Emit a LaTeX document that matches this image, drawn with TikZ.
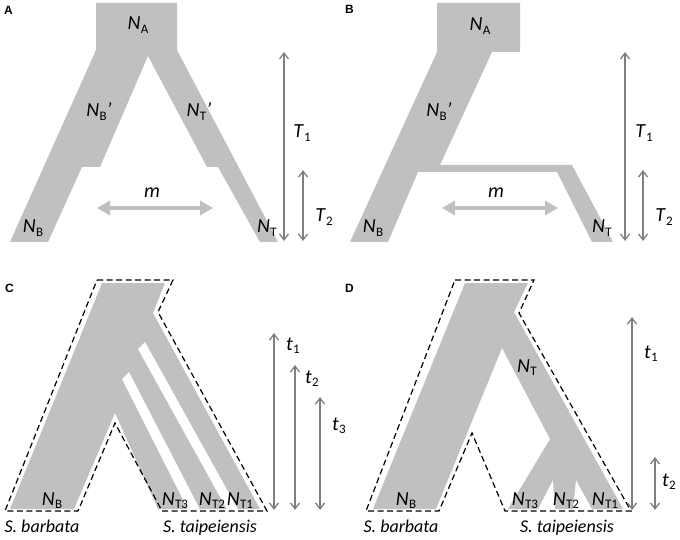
\documentclass[tikz,border=0pt]{standalone}
\usepackage{fontspec}
\setmainfont{Carlito}
\newfontfamily\panelfont{Liberation Sans}
\usetikzlibrary{arrows.meta}
\definecolor{popgray}{HTML}{C0C0C0}
\definecolor{timegray}{HTML}{7F7F7F}
\newcommand{\Nsub}[2]{\textit{#1}\kern0.3pt\raisebox{-3.5pt}{\fontsize{13}{13}\selectfont #2}}
\begin{document}
\begin{tikzpicture}[x=1pt,y=-1pt,
  pop/.style={fill=popgray,draw=none},
  gapstripe/.style={fill=white,draw=none},
  outline/.style={draw=black,line width=1.2pt,dash pattern=on 6pt off 3.5pt,line join=miter},
  timearr/.style={draw=timegray,line width=1.3pt,{Straight Barb[length=6pt,width=9pt]}-{Straight Barb[length=6pt,width=9pt]}},
  migarr/.style={draw=popgray,line width=4pt,{Triangle[length=13pt,width=14pt]}-{Triangle[length=13pt,width=14pt]}},
  lab/.style={inner sep=0pt,anchor=base,font=\fontsize{20}{24}\selectfont},
  tlab/.style={inner sep=0pt,anchor=base west,font=\fontsize{20}{24}\selectfont},
  sp/.style={inner sep=0pt,anchor=base,font=\fontsize{18}{22}\selectfont\itshape},
  panel/.style={inner sep=0pt,anchor=base west,font=\panelfont\bfseries\fontsize{12}{14}\selectfont}]
\useasboundingbox (0,0) rectangle (680,540);

% ---------- Panel A ----------
\fill[pop] (96,3) -- (177,3) -- (177,50) -- (278,242) -- (260,242) -- (218,167) -- (207,167)
  -- (148,56) -- (100,167) -- (82,167) -- (48,242) -- (10,242) -- (96,50) -- cycle;
\node[panel] (pA) at (4,15) {A};
\node[lab] (aNA) at (138,30) {\Nsub{N}{A}};
\node[lab] (aNBp) at (99,117) {\Nsub{N}{B}\textit{’}};
\node[lab] (aNTp) at (199,117) {\Nsub{N}{T}\textit{’}};
\node[lab] (aNB) at (33,233) {\Nsub{N}{B}};
\node[lab] (aNT) at (267,233) {\Nsub{N}{T}};
\node[lab] (am) at (152,198) {\textit{m}};
\coordinate (amL) at (97,208);
\coordinate (amR) at (213,208);
\draw[migarr] (amL) -- (amR);
\coordinate (aT1t) at (284,52);
\coordinate (aT1b) at (284,241);
\coordinate (aT2t) at (303,170);
\coordinate (aT2b) at (303,241);
\draw[timearr] (aT1t) -- (aT1b);
\draw[timearr] (aT2t) -- (aT2b);
\node[lab] (aT1) at (302,138) {\Nsub{T}{1}};
\node[lab] (aT2) at (324,222) {\Nsub{T}{2}};

% ---------- Panel B ----------
\fill[pop] (437,3) -- (520,3) -- (520,52) -- (492,52) -- (440,165) -- (572,165) -- (613,242)
  -- (592,242) -- (557,172) -- (418,172) -- (388,242) -- (350,242) -- (437,52) -- cycle;
\node[panel] (pB) at (345,14) {B};
\node[lab] (bNA) at (480,31) {\Nsub{N}{A}};
\node[lab] (bNBp) at (439,117) {\Nsub{N}{B}\textit{’}};
\node[lab] (bNB) at (373,233) {\Nsub{N}{B}};
\node[lab] (bNT) at (602,233) {\Nsub{N}{T}};
\node[lab] (bm) at (496,198) {\textit{m}};
\coordinate (bmL) at (442,208);
\coordinate (bmR) at (558,208);
\draw[migarr] (bmL) -- (bmR);
\coordinate (bT1t) at (625,52);
\coordinate (bT1b) at (625,241);
\coordinate (bT2t) at (643,170);
\coordinate (bT2b) at (643,241);
\draw[timearr] (bT1t) -- (bT1b);
\draw[timearr] (bT2t) -- (bT2b);
\node[lab] (bT1) at (644,138) {\Nsub{T}{1}};
\node[lab] (bT2) at (664,222) {\Nsub{T}{2}};

% ---------- Panel C ----------
\fill[pop] (102,283) -- (165,283) -- (153,313) -- (260,509) -- (158,509) -- (115,413)
  -- (74,509) -- (10,509) -- cycle;
\fill[gapstripe] (122,379) -- (129,372) -- (200,509.5) -- (188,509.5) -- cycle;
\fill[gapstripe] (138,349) -- (145,342) -- (238,509.5) -- (227,509.5) -- cycle;
\draw[outline] (97,280) -- (173,280) -- (158,312) -- (267,511) -- (162,511) -- (115,423)
  -- (78,511) -- (5,511) -- cycle;
\node[panel] (pC) at (5,292) {C};
\node[lab] (cNB) at (52,505) {\Nsub{N}{B}};
\node[lab] (cNT3) at (175,505) {\Nsub{N}{T3}};
\node[lab] (cNT2) at (212,505) {\Nsub{N}{T2}};
\node[lab] (cNT1) at (240,505) {\Nsub{N}{T1}};
\node[sp] (cSB) at (42,532) {S. barbata};
\node[sp] (cST) at (210,532) {S. taipeiensis};
\coordinate (ct1t) at (274,333);
\coordinate (ct1b) at (274,510);
\coordinate (ct2t) at (295,365);
\coordinate (ct2b) at (295,510);
\coordinate (ct3t) at (320,397);
\coordinate (ct3b) at (320,510);
\draw[timearr] (ct1t) -- (ct1b);
\draw[timearr] (ct2t) -- (ct2b);
\draw[timearr] (ct3t) -- (ct3b);
\node[tlab] (ct1) at (286,350) {\Nsub{t}{1}};
\node[tlab] (ct2) at (305,383) {\Nsub{t}{2}};
\node[tlab] (ct3) at (332,430) {\Nsub{t}{3}};

% ---------- Panel D ----------
\fill[pop] (465,283) -- (528,283) -- (514,312) -- (623,509) -- (592,509) -- (576,480)
  -- (573,509) -- (555,509) -- (553,480) -- (538,509) -- (508,509) -- (550,439)
  -- (502,348) -- (436,509) -- (373,509) -- cycle;
\draw[outline] (455,280) -- (534,280) -- (519,313) -- (631,511) -- (505,511) -- (472,433)
  -- (439,511) -- (366,511) -- cycle;
\node[panel] (pD) at (345,292) {D};
\node[lab] (dNT) at (527,372) {\Nsub{N}{T}};
\node[lab] (dNB) at (406,505) {\Nsub{N}{B}};
\node[lab] (dNT3) at (525,505) {\Nsub{N}{T3}};
\node[lab] (dNT2) at (566,505) {\Nsub{N}{T2}};
\node[lab] (dNT1) at (605,505) {\Nsub{N}{T1}};
\node[sp] (dSB) at (401,532) {S. barbata};
\node[sp] (dST) at (567,532) {S. taipeiensis};
\coordinate (dt1t) at (632,317);
\coordinate (dt1b) at (632,510);
\coordinate (dt2t) at (655,457);
\coordinate (dt2b) at (655,510);
\draw[timearr] (dt1t) -- (dt1b);
\draw[timearr] (dt2t) -- (dt2b);
\node[tlab] (dt1) at (644,358) {\Nsub{t}{1}};
\node[tlab] (dt2) at (662,486) {\Nsub{t}{2}};
\end{tikzpicture}
\end{document}
